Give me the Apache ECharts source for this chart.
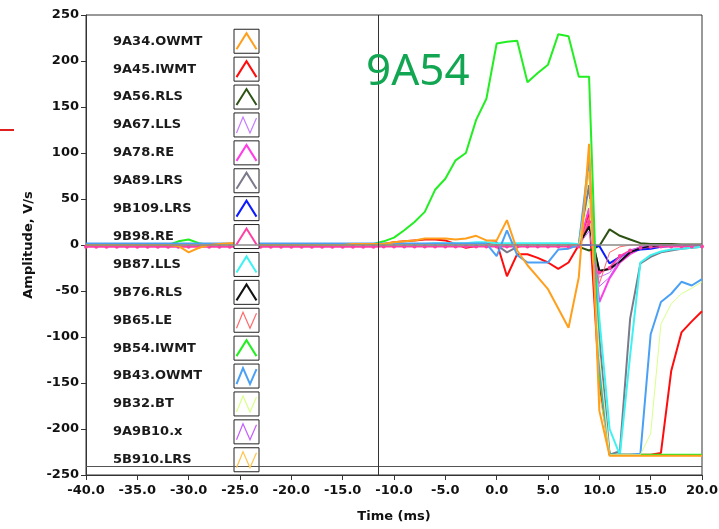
<!DOCTYPE html>
<html><head><meta charset="utf-8">
<script src="https://cdn.jsdelivr.net/npm/echarts@6/dist/echarts.min.js"></script>
<style>html,body{margin:0;padding:0;background:#fff}#c{width:719px;height:529px}</style>
</head><body><div id="c"></div>
<script>
// ---------- data ----------
const times = [-40,-39,-38,-37,-36,-35,-34,-33,-32,-31,-30,-29,-28,-27,-26,-25,-24,-23,-22,-21,-20,-19,-18,-17,-16,-15,-14,-13,-12,
  -11,-10,-9,-8,-7,-6,-5,-4,-3,-2,-1,0,1,2,3,4,5,6,7,8,9,10,11,12,13,14,15,16,17,18,19,20];

const v9A34 = [0,0,0,0,0,0,0,0,0,-1,-8,-3,0,1,2,2,1,0,0,0,0,0,0,0,0,0,1,1,1,
  1,3,4,5,7,7,7,6,7,10,5,5,27,-6,-22,-35,-48,-69,-90,-35,110,-180,-229,-229,-229,-229,-229,-229,-229,-229,-229,-229];
const v9A45 = [0,0,0,0,0,0,0,0,0,0,0,0,0,0,0,0,0,0,0,0,0,0,0,0,0,0,0,0,0,
  1,3,4,5,6,6,5,1,-3,-1,2,3,-34,-10,-10,-14,-19,-26,-19,0,35,-150,-228,-228,-228,-228,-228,-226,-137,-95,-83,-72];
const v9A56 = [0,0,0,0,0,0,0,0,0,0,0,0,0,0,0,0,0,0,0,0,0,0,0,0,0,0,0,0,0,
  0,0,0,0,0,0,0,0,0,0,0,0,0,0,0,0,0,0,0,-2,-6,-1,17,10,6,2,1,1,1,0.5,0.5,0.5];
const v9A67 = [0,0,0,0,0,0,0,0,0,0,0,0,0,0,0,0,0,0,0,0,0,0,0,0,0,0,0,0,0,
  0,0,0,0,0,0,0,0,0,0,0,0,0,0,0,0,0,0,0,0,20,-35,-30,-15,-7,-3,-1,0,0,0,0,0];
const v9A78 = [0,0,0,0,0,0,0,0,0,0,0,0,0,0,0,0,0,0,0,0,0,0,0,0,0,0,0,0,0,
  0,0,0,0,0,0,0,0,0,0,0,0,-1,0,0,0,0,0,0,0,40,-62,-36,-19,-10,-4,-2,-1,0,0,0,0];
const v9A89 = [0,0,0,0,0,0,0,0,0,0,0,0,0,0,0,0,0,0,0,0,0,0,0,0,0,0,0,0,0,
  0,0,0,0,0,0,0,0,0,0,0,0,-8,-2,0,0,0,0,0,0,65,-100,-228,-224,-80,-20,-13,-8,-6,-4,-3,-2];
const v9B109 = [0.5,0.5,0.5,0.5,0.5,0.5,0.5,0.5,0.5,0.5,0.5,0.5,0.5,0.5,0.5,0.5,0.5,0.5,0.5,0.5,0.5,0.5,0.5,0.5,0.5,0.5,0.5,0.5,0.5,
  0,0,0,0,0,0,0,0,0,0,0,0,0,0,0,0,0,0,0,0,0,-1,-20,-13,-7,-5,-4,-2,-1,0,0,0];
const v9B98 = [-2,-2,-2,-2,-2,-2,-2,-2,-2,-2,-2,-2,-2,-2,-2,-2,-2,-2,-2,-2,-2,-2,-2,-2,-2,-2,-2,-2,-2,
  -1.5,-1.5,-1.5,-1.5,-1.5,-1.5,-1.5,-1.5,-1.5,-1.5,-1.5,-1.5,-1.5,-1.5,-1.5,-1.5,-1.5,-1.5,-1.5,-1.5,25,-30,-25,-12,-6,-3,-2,-1.5,-1.5,-1.5,-1.5,-1.5];
const v9B87 = [0.5,0.5,0.5,0.5,0.5,0.5,0.5,0.5,0.5,0.5,0.5,0.5,0.5,0.5,0.5,0.5,0.5,0.5,0.5,0.5,0.5,0.5,0.5,0.5,0.5,0.5,0.5,0.5,0.5,
  1,1,1,1,1,2,2,2,2,3,3,2,2,2,2,2,2,2,2,1,85,-80,-200,-228,-120,-19,-11,-7,-5,-4,-3,-2];
const v9B76 = [0,0,0,0,0,0,0,0,0,0,0,0,0,0,0,0,0,0,0,0,0,0,0,0,0,0,0,0,0,
  0,0,0,0,0,0,0,0,0,0,0,0,0,0,0,0,0,0,0,0,20,-28,-26,-18,-8,-3,-1,0,0,0,0,0];
const v9B65 = [0,0,0,0,0,0,0,0,0,0,0,0,0,0,0,0,0,0,0,0,0,0,0,0,0,0,0,0,0,
  0,0,0,0,0,0,0,0,0,0,0,0,0,0,0,0,0,0,0,0,30,-42,-8,-2,0,0,0,0,0,0,0,0];
const v9B54 = [0,0,0,0,0,0,0,0,0,4,6,2,0,0,0,0,0,0,0,0,0,0,0,0,0,0,0,0,1,
  4,8,16,25,36,60,72,92,100,136,159,219,221,222,177,187,196,229,227,183,183,-140,-228,-228,-228,-228,-228,-228,-228,-228,-228,-228];
const v9B43 = [1.5,1.5,1.5,1.5,1.5,1.5,1.5,1.5,1.5,1.5,1.5,1.5,1.5,1.5,1.5,1.5,1.5,1.5,1.5,1.5,1.5,1.5,1.5,1.5,1.5,1.5,1.5,1.5,1.5,
  1.5,1.5,1.5,1.5,1.5,1.5,1.5,1.5,1.5,1.5,1.5,-12,16,-11,-19,-19,-19,-5,-4,0,95,-130,-228,-228,-228,-227,-97,-62,-53,-40,-44,-37];
const v9B32 = [0,0,0,0,0,0,0,0,0,0,0,0,0,0,0,0,0,0,0,0,0,0,0,0,0,0,0,0,0,
  0,0,0,0,0,0,0,0,0,0,0,0,0,0,0,0,0,0,0,0,50,-120,-228,-228,-228,-228,-205,-86,-64,-53,-47,-40];
const v9A9B10 = [0,0,0,0,0,0,0,0,0,0,0,0,0,0,0,0,0,0,0,0,0,0,0,0,0,0,0,0,0,
  0,0,0,0,0,0,0,0,0,0,0,0,0,0,0,0,0,0,0,0,15,-45,-35,-15,-6,-2,0,0,0,0,0,0];
const v5B910 = [0,0,0,0,0,0,0,0,0,0,0,0,0,0,0,0,0,0,0,0,0,0,0,0,0,0,0,0,0,
  0,0,0,0,0,0,0,0,0,0,0,0,0,0,0,0,0,0,0,0,80,-160,-229,-229,-229,-229,-229,-229,-229,-229,-229,-229];

const seriesNames = ['9A34.OWMT','9A45.IWMT','9A56.RLS','9A67.LLS','9A78.RE','9A89.LRS','9B109.LRS','9B98.RE',
  '9B87.LLS','9B76.RLS','9B65.LE','9B54.IWMT','9B43.OWMT','9B32.BT','9A9B10.x','5B910.LRS'];
const seriesValues = [v9A34,v9A45,v9A56,v9A67,v9A78,v9A89,v9B109,v9B98,v9B87,v9B76,v9B65,v9B54,v9B43,v9B32,v9A9B10,v5B910];
const seriesColors = ['#ff9f1c','#ff0d0d','#2e5214','#c77dff','#ff3ee6','#7a7a8a','#0b1cff','#ff3fa4',
  '#3ff2f2','#111111','#ff6a6a','#22ee22','#4aa0f5','#d9ff8a','#c45cff','#ffc34d'];
const seriesWidths = [2,2,2,1,2,2,2,2,2,2,1,2,2,1,1,1];
const legendShapes = ['peak','peak','peak','zig','peak','peak','peak','peak','peak','peak','zig','peak','zig','zig','zig','zig'];
const yTicksMin = -250, yTicksMax = 250, yStep = 50;
const xTicksMin = -40, xTicksMax = 20, xStep = 5;

// ---------- chart ----------
const FONT = 'DejaVu Sans';
const PEAK = 'path://M0,16 L10,0 L20,16';
const ZIG = 'path://M0,16 L6.5,0 L13.5,16 L20,1';
const BOX = 'path://M0,0 H25 V24 H0 Z';
const ROW = 27.9; // legend row pitch

const chart = echarts.init(document.getElementById('c'), null, {renderer: 'canvas'});

const series = seriesNames.map((name, i) => ({
  name: name,
  type: 'line',
  data: times.map((t, j) => [t, seriesValues[i][j]]),
  showSymbol: name === '9B98.RE',
  showAllSymbol: true,
  symbol: 'circle',
  symbolSize: 4,
  lineStyle: {color: seriesColors[i], width: seriesWidths[i]},
  itemStyle: {color: seriesColors[i]},
  z: name === '9A34.OWMT' ? 3 : 2,
  silent: true,
  animation: false
}));

series.unshift({
  type: 'line', data: [], silent: true, animation: false, z: 1,
  markLine: {
    silent: true, symbol: ['none', 'none'], label: {show: false}, animation: false,
    data: [
      {yAxis: 0, lineStyle: {color: '#8a8a8a', width: 1.5, type: 'solid'}},
      {yAxis: -240, lineStyle: {color: '#555', width: 1, type: 'solid'}},
      {xAxis: -11.5, lineStyle: {color: '#333', width: 1, type: 'solid'}}
    ]
  }
});

const legendCommon = {
  orient: 'vertical', left: 113, top: 27.3, padding: 0,
  itemGap: 0, align: 'right',
  selectedMode: false,
  formatter: n => '{a|' + n + '}'
};
const richA = {height: ROW, lineHeight: ROW, align: 'left', verticalAlign: 'middle',
  fontFamily: FONT, fontWeight: 'bold', fontSize: 13};

const option = {
  animation: false,
  backgroundColor: '#fff',
  grid: {left: 86, right: 17, top: 15, bottom: 54, show: true, borderColor: '#333', borderWidth: 1, outerBoundsMode: 'none'},
  xAxis: {
    type: 'value', min: xTicksMin, max: xTicksMax, interval: xStep,
    axisLine: {show: true, onZero: false, lineStyle: {color: '#333'}},
    axisTick: {show: true, length: 5, lineStyle: {color: '#333'}},
    axisLabel: {formatter: v => v.toFixed(1), fontFamily: FONT, fontWeight: 'bold', fontSize: 13, color: '#111', margin: 9},
    splitLine: {show: false},
    name: 'Time (ms)', nameLocation: 'middle', nameGap: 35,
    nameTextStyle: {fontFamily: FONT, fontWeight: 'bold', fontSize: 13, color: '#111'}
  },
  yAxis: {
    type: 'value', min: yTicksMin, max: yTicksMax, interval: yStep,
    axisLine: {show: true, onZero: false, lineStyle: {color: '#333'}},
    axisTick: {show: true, length: 5, lineStyle: {color: '#333'}},
    axisLabel: {fontFamily: FONT, fontWeight: 'bold', fontSize: 13, color: '#111', margin: 7},
    splitLine: {show: false},
    name: 'Amplitude, V/s', nameLocation: 'middle', nameGap: 46,
    nameTextStyle: {fontFamily: FONT, fontWeight: 'bold', fontSize: 13, color: '#111'}
  },
  legend: [
    Object.assign({}, legendCommon, {
      z: 4,
      itemWidth: 25, itemHeight: 24,
      data: seriesNames.map(n => ({name: n, icon: BOX})),
      itemStyle: {color: '#fff', borderColor: '#222', borderWidth: 1},
      textStyle: {rich: {a: Object.assign({}, richA, {width: 116, color: '#1a1a1a'})}}
    }),
    Object.assign({}, legendCommon, {
      z: 6,
      itemWidth: 20, itemHeight: 16,
      data: seriesNames.map((n, i) => ({
        name: n,
        icon: legendShapes[i] === 'peak' ? PEAK : ZIG,
        itemStyle: {color: 'rgba(0,0,0,0)', borderColor: seriesColors[i], borderWidth: seriesWidths[i] >= 2 ? 2 : 1.2}
      })),
      itemStyle: {color: 'rgba(0,0,0,0)', borderWidth: 2},
      textStyle: {rich: {a: Object.assign({}, richA, {width: 118.5, color: 'rgba(0,0,0,0)'})}}
    })
  ],
  graphic: [
    {type: 'text', left: 366, top: 50, z: 10, silent: true,
     style: {text: '9A54', fill: '#13a652', font: '44px "Noto Sans"'}},
    {type: 'line', z: 10, silent: true, shape: {x1: 0, y1: 130, x2: 14, y2: 130},
     style: {stroke: '#e02020', lineWidth: 2}}
  ],
  series: series
};

chart.setOption(option);
</script>
</body></html>
